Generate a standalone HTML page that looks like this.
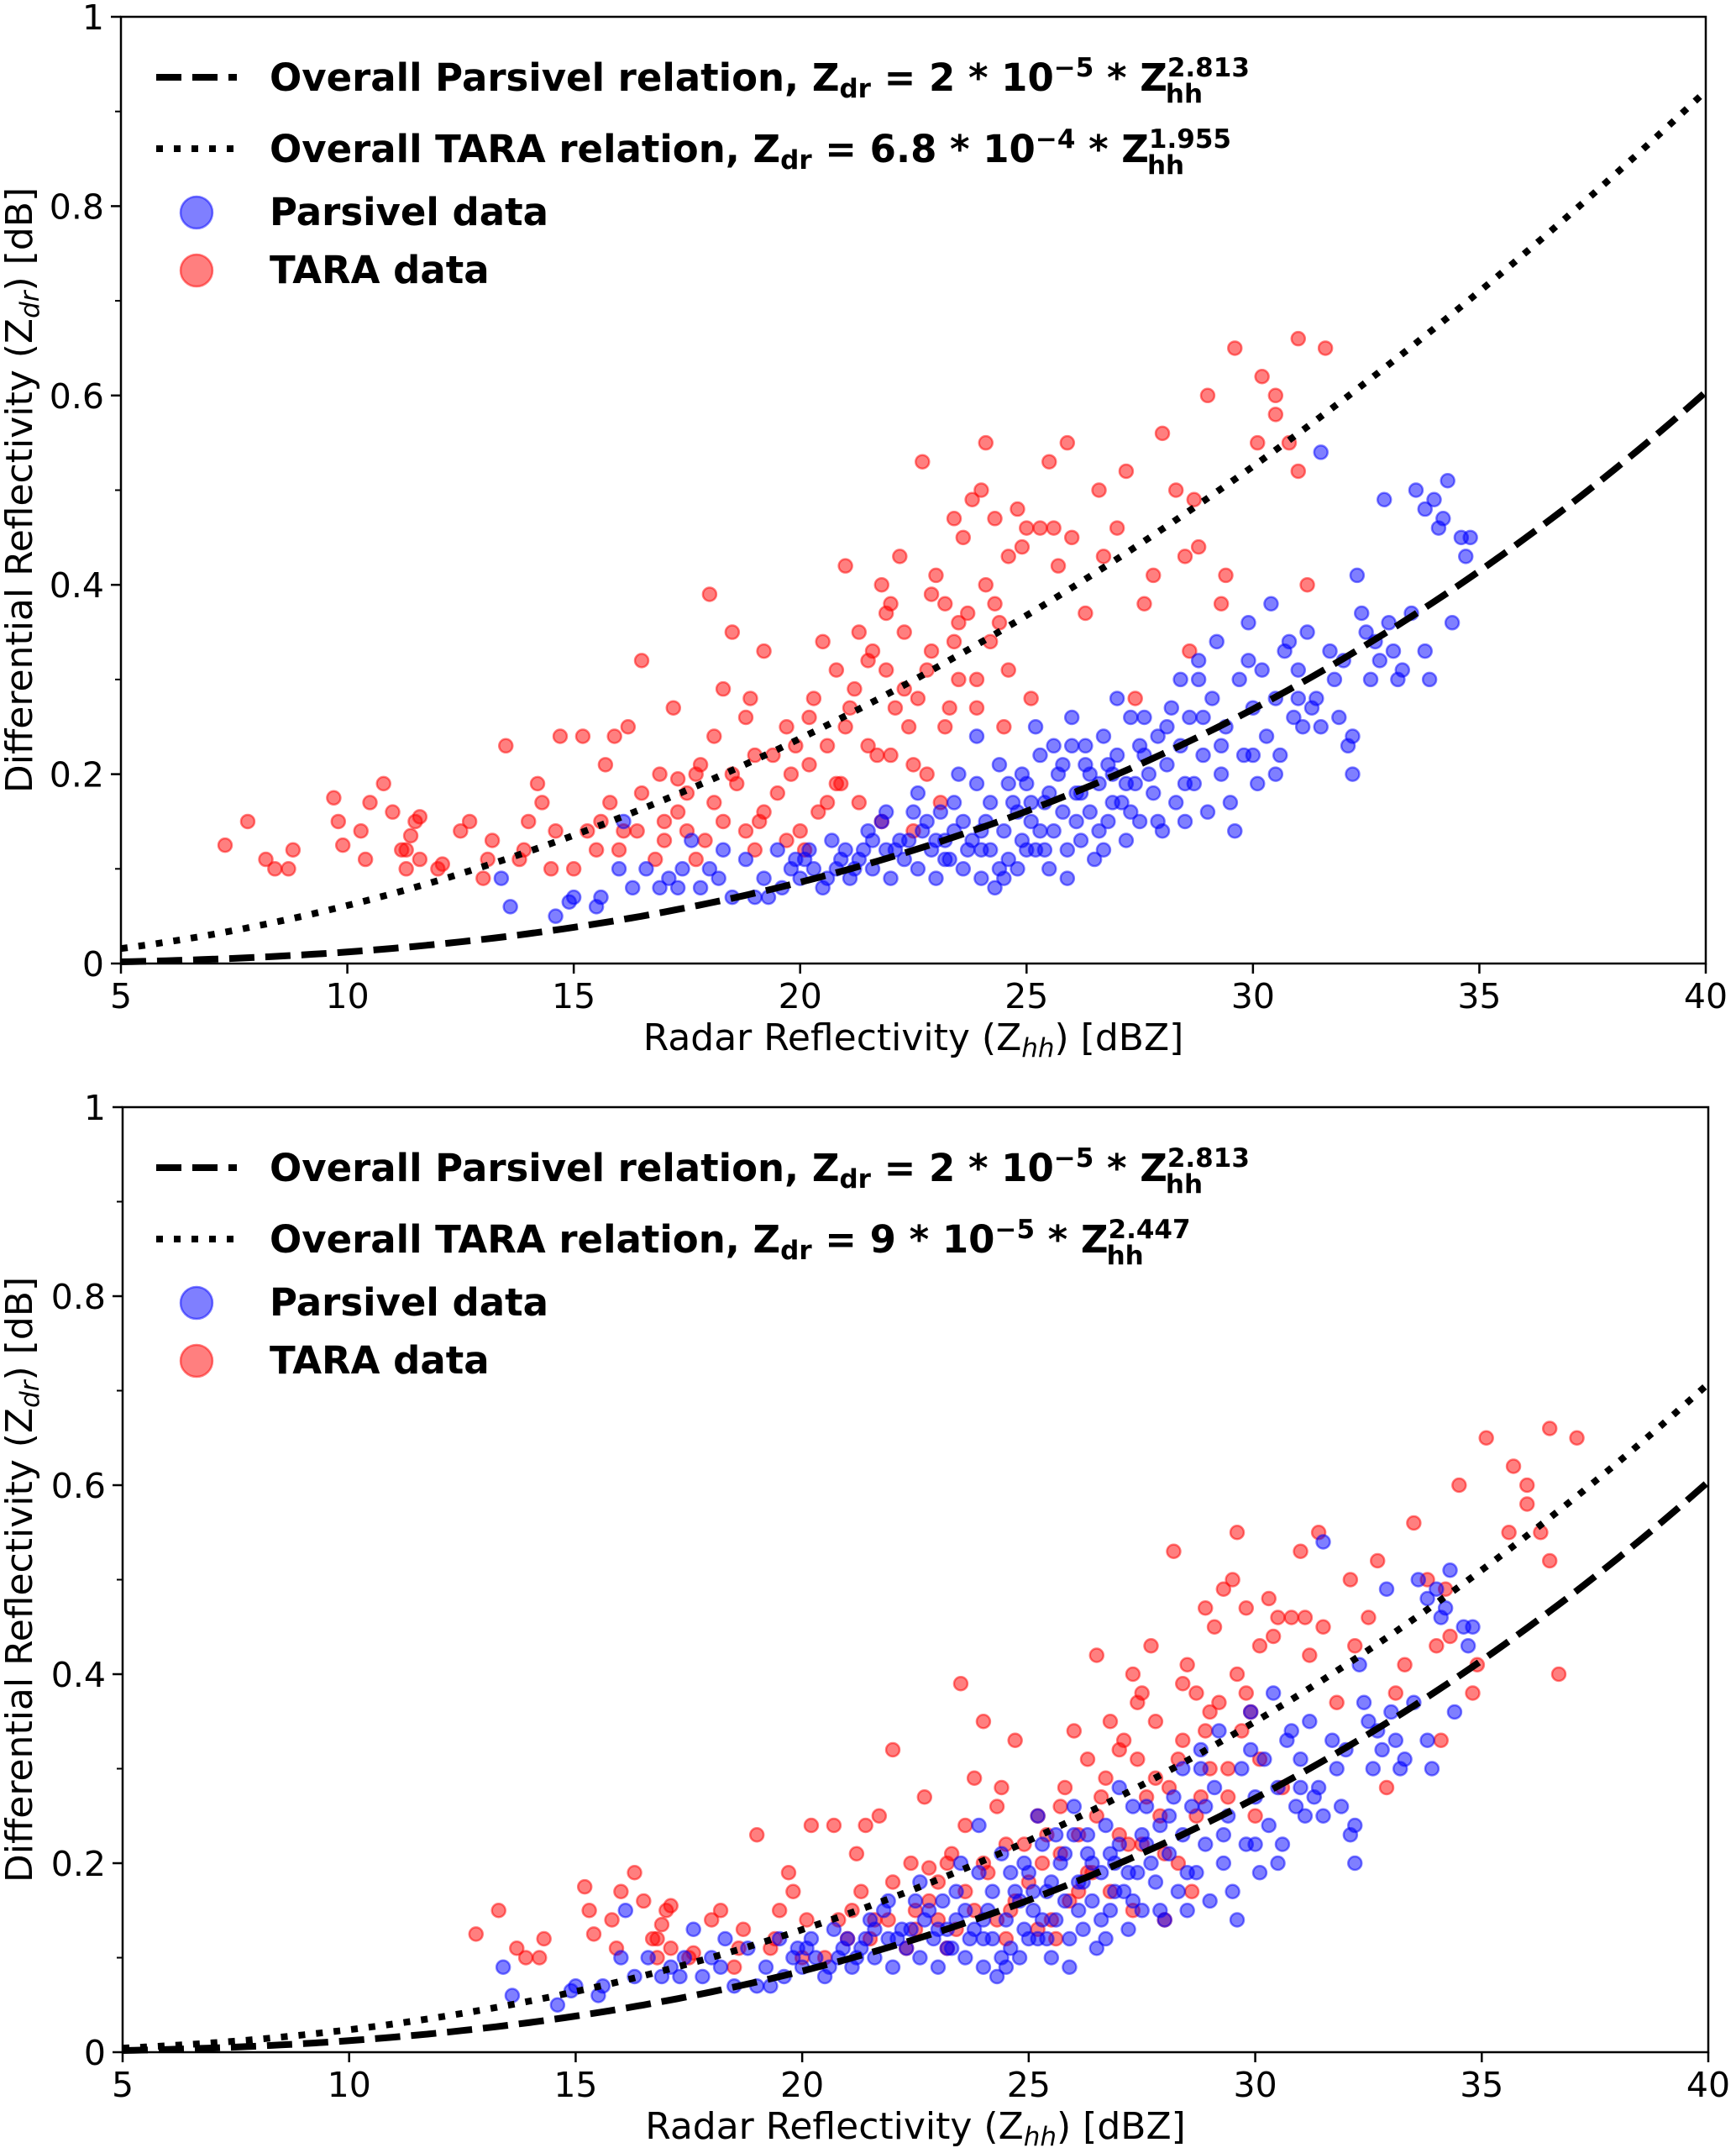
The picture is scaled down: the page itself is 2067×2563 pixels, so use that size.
<!DOCTYPE html>
<html><head><meta charset="utf-8"><style>
html,body{margin:0;padding:0;background:#fff;}
svg{display:block;font-family:"DejaVu Sans","Liberation Sans",sans-serif;}
</style></head><body>
<svg id="fig" xmlns="http://www.w3.org/2000/svg" width="2067" height="2563" viewBox="0 0 2067 2563"></svg>
<script>
// ---- data ----
const xTicks = [5,10,15,20,25,30,35,40];
const yTicks = [0,0.2,0.4,0.6,0.8,1];
const yTickLabels = ["0","0.2","0.4","0.6","0.8","1"];
const yMinor = [0.1,0.3,0.5,0.7,0.9];
const parsivelCoef = [1.88e-5, 1.88e-5];
const parsivelExp = [2.813, 2.813];
const taraCoef = [6.8e-4, 8.5e-5];
const taraExp = [1.955, 2.447];
const taraShift = [0, 5.5];
const taraX = [7.3,7.8,8.2,8.4,8.8,8.7,9.7,9.8,9.9,10.3,10.5,10.4,10.8,11.0,11.2,11.3,11.3,11.5,11.4,11.6,11.6,12,12.1,12.7,13.2,13.1,13.5,13.9,13.8,14.2,14.3,14.6,14.7,15.2,15.3,15.5,15.7,15.8,15.9,16.0,16.2,16.5,16.4,17.0,17.2,17.3,17.5,17.3,17.7,17.9,18.1,18.0,18.3,18.5,18.3,18.6,18.9,18.8,19.2,19.4,19.2,19.7,19.7,20.0,20.2,20.5,20.6,20.8,21.0,21.0,21.3,21.5,21.7,21.8,22.0,22.1,22.2,22.3,22.5,22.7,22.8,23.0,23.2,23.3,23.5,23.6,23.7,23.8,24.0,24.1,24.3,24.6,24.8,25.0,25.3,25.5,25.6,25.9,26.3,26.6,27.0,27.4,27.6,28.0,28.3,28.5,28.7,29.0,29.4,29.6,30.1,30.2,30.5,30.8,31.0,31.0,31.6,31.2,29.3,28.6,27.8,25.7,26.7,24.3,23.9,21.5,22.8,20.2,21.8,22.5,20.6,21.2,19.1,16.8,15.0,14.5,12.5,19.5,20.9,22.3,23.2,23.9,17.7,16.5,15.6,18.5,20.1,21.9,22.9,24.2,25.1,23.1,19.8,18.1,17.0,16.1,14.0,13.0,20.4,22.0,24.6,21.3,23.5,24.5,16.9,17.8,19.0,20.3,21.1,21.6,22.6,23.4,24.1,24.9,23.4,24.4,22.9,21.9,20.8,19.0,17.5,18.8,22.4,26.0,27.2,28.8,30.5,19.9];
const taraY = [0.125,0.15,0.11,0.10,0.12,0.10,0.175,0.15,0.125,0.14,0.17,0.11,0.19,0.16,0.12,0.12,0.10,0.15,0.135,0.11,0.155,0.10,0.105,0.15,0.13,0.11,0.23,0.12,0.11,0.19,0.17,0.14,0.24,0.24,0.14,0.12,0.21,0.17,0.24,0.12,0.25,0.32,0.14,0.13,0.27,0.195,0.18,0.16,0.20,0.13,0.24,0.39,0.29,0.35,0.15,0.19,0.28,0.14,0.16,0.22,0.33,0.25,0.13,0.14,0.26,0.34,0.17,0.31,0.42,0.25,0.17,0.32,0.22,0.40,0.38,0.27,0.43,0.35,0.21,0.53,0.31,0.41,0.38,0.27,0.30,0.45,0.37,0.49,0.50,0.55,0.47,0.43,0.48,0.46,0.46,0.53,0.46,0.55,0.37,0.50,0.46,0.28,0.38,0.56,0.50,0.43,0.49,0.60,0.41,0.65,0.55,0.62,0.60,0.55,0.66,0.52,0.65,0.40,0.38,0.33,0.41,0.42,0.43,0.38,0.30,0.23,0.20,0.21,0.15,0.14,0.23,0.29,0.15,0.11,0.10,0.10,0.14,0.18,0.19,0.29,0.25,0.27,0.11,0.18,0.15,0.20,0.12,0.31,0.33,0.34,0.28,0.17,0.20,0.17,0.15,0.14,0.15,0.09,0.16,0.22,0.31,0.35,0.36,0.25,0.20,0.21,0.22,0.28,0.27,0.33,0.28,0.34,0.40,0.44,0.47,0.36,0.39,0.37,0.19,0.12,0.14,0.26,0.25,0.45,0.52,0.44,0.58,0.23];
const parsX = [13.4,13.6,14.6,14.9,15.0,15.6,15.5,16.1,16.3,16.6,17.1,17.3,17.6,17.8,18.0,18.2,18.5,18.8,19.0,19.2,19.5,19.6,19.8,20.0,20.2,20.3,20.5,20.7,20.8,21.0,21.1,21.3,21.5,21.6,21.8,21.9,22.0,22.2,22.3,22.5,22.6,22.7,22.9,23.0,23.1,23.3,23.4,23.5,23.6,23.8,23.9,24.0,24.1,24.2,24.3,24.4,24.5,24.6,24.7,24.8,24.9,25.0,25.1,25.2,25.3,25.4,25.5,25.6,25.7,25.8,25.9,26.0,26.1,26.2,26.3,26.4,26.5,26.6,26.7,26.8,26.9,27.0,27.1,27.2,27.3,27.4,27.5,27.6,27.8,27.9,28.0,28.1,28.2,28.3,28.4,28.5,28.6,28.7,28.8,28.9,29.0,29.1,29.2,29.3,29.4,29.5,29.7,29.8,29.9,30.0,30.1,30.2,30.3,30.4,30.5,30.6,30.8,30.9,31.0,31.1,31.2,31.4,31.5,31.5,31.7,31.8,32.0,32.2,32.2,32.3,32.4,32.5,32.6,32.8,32.9,33.0,33.1,33.3,33.5,33.6,33.8,33.9,34.0,34.1,34.2,34.3,34.4,34.6,34.7,34.8,22.4,23.2,24.0,24.8,25.5,26.2,26.9,25.0,24.4,23.7,26.6,27.7,25.8,24.6,23.4,21.6,20.9,27.0,26.0,25.2,28.4,16.0,16.9,17.4,18.3,19.3,19.9,20.6,21.2,21.9,22.1,22.8,23.0,23.6,24.2,24.5,24.9,25.3,25.6,25.9,26.1,26.4,26.7,27.2,27.5,27.9,28.1,28.5,28.9,29.3,29.6,30.0,30.5,31.0,31.3,31.9,32.1,33.2,33.8,22.6,23.9,25.1,26.3,27.6,28.8,29.9,21.4,20.1,24.0,25.4,26.8,30.7,32.7,23.2,27.3];
const parsY = [0.09,0.06,0.05,0.065,0.07,0.07,0.06,0.15,0.08,0.10,0.09,0.08,0.13,0.08,0.10,0.09,0.07,0.11,0.07,0.09,0.12,0.08,0.10,0.09,0.12,0.10,0.08,0.13,0.10,0.12,0.09,0.11,0.14,0.10,0.15,0.12,0.09,0.13,0.11,0.16,0.10,0.14,0.12,0.09,0.16,0.11,0.14,0.20,0.10,0.13,0.24,0.09,0.15,0.12,0.08,0.21,0.14,0.11,0.17,0.10,0.13,0.19,0.15,0.12,0.22,0.17,0.10,0.14,0.20,0.16,0.12,0.23,0.18,0.13,0.21,0.16,0.11,0.19,0.24,0.15,0.20,0.22,0.17,0.13,0.26,0.19,0.15,0.22,0.18,0.24,0.14,0.21,0.27,0.17,0.23,0.15,0.26,0.19,0.32,0.22,0.16,0.28,0.34,0.20,0.25,0.17,0.30,0.22,0.36,0.27,0.19,0.31,0.24,0.38,0.28,0.22,0.34,0.26,0.31,0.25,0.35,0.28,0.54,0.25,0.33,0.30,0.32,0.24,0.20,0.41,0.37,0.35,0.30,0.32,0.49,0.36,0.33,0.31,0.37,0.50,0.48,0.30,0.49,0.46,0.47,0.51,0.36,0.45,0.43,0.45,0.13,0.13,0.12,0.16,0.18,0.18,0.17,0.12,0.10,0.12,0.14,0.20,0.21,0.19,0.17,0.13,0.11,0.28,0.26,0.25,0.30,0.10,0.08,0.10,0.12,0.07,0.11,0.09,0.10,0.16,0.12,0.15,0.13,0.15,0.17,0.09,0.20,0.14,0.23,0.09,0.15,0.20,0.12,0.19,0.23,0.15,0.25,0.19,0.26,0.23,0.14,0.22,0.20,0.28,0.27,0.26,0.23,0.30,0.33,0.18,0.19,0.17,0.23,0.26,0.30,0.32,0.12,0.11,0.14,0.12,0.21,0.33,0.34,0.11,0.16];
const panelExps = [["2.813","1.955"],["2.813","2.447"]];
const panelCoefTxt = [["2 * 10","6.8 * 10"],["2 * 10","9 * 10"]];
const panelPow = [["−5","−4"],["−5","−5"]];

const NS="http://www.w3.org/2000/svg";
const svg=document.getElementById('fig');
function mk(tag,attrs,parent){const e=document.createElementNS(NS,tag);for(const k in attrs)e.setAttribute(k,attrs[k]);(parent||svg).appendChild(e);return e;}

const panels=[{x0:144,x1:2031,y0:1147,y1:20,ly:0},{x0:146,x1:2034,y0:2443,y1:1318,ly:1298}];

panels.forEach((P,pi)=>{
  const g=mk('g',{});
  
  
  const sx=v=>P.x0+(v-5)/35*(P.x1-P.x0);
  const sy=v=>P.y0-(v)*(P.y0-P.y1);
  const gr=mk('g',{},g);
  
  
  for(let i=0;i<taraX.length;i++){
    const c=mk('circle',{cx:sx(taraX[i]+taraShift[pi]),cy:sy(taraY[i]),r:8,fill:'rgba(255,0,0,0.5)',stroke:'rgba(255,0,0,0.5)','stroke-width':2.5},gr);
    
    
  }
  const gb=mk('g',{},g);
  
  
  for(let i=0;i<parsX.length;i++){
    const c=mk('circle',{cx:sx(parsX[i]),cy:sy(parsY[i]),r:8,fill:'rgba(0,0,255,0.5)',stroke:'rgba(0,0,255,0.5)','stroke-width':2.5},gb);
    
    
  }
  function curve(a,b,dash,name){
    let d='';
    for(let z=5;z<=40.001;z+=0.25){const v=a*Math.pow(z,b);d+=(d?'L':'M')+sx(z).toFixed(1)+','+sy(v).toFixed(1);}
    const p=mk('path',{d:d,fill:'none',stroke:'#000','stroke-width':8,'stroke-dasharray':dash},g);
    
    
  }
  curve(parsivelCoef[pi],parsivelExp[pi],'30 13','parsivel-fit-line');
  curve(taraCoef[pi],taraExp[pi],'8 13','tara-fit-line');
  const fr=mk('rect',{x:P.x0,y:P.y1,width:P.x1-P.x0,height:P.y0-P.y1,fill:'none',stroke:'#000','stroke-width':2.5},g);
  
  
  xTicks.forEach(t=>{
    mk('line',{x1:sx(t),x2:sx(t),y1:P.y0,y2:P.y0+12,stroke:'#000','stroke-width':2.5},g);
    const tx=mk('text',{x:sx(t),y:P.y0+53,'font-size':41,'text-anchor':'middle',fill:'#000'},g);
    tx.textContent=t;
    
    
  });
  yTicks.forEach((t,i)=>{
    mk('line',{x1:P.x0-12,x2:P.x0,y1:sy(t),y2:sy(t),stroke:'#000','stroke-width':2.5},g);
    const tx=mk('text',{x:P.x0-20,y:sy(t)+15,'font-size':41,'text-anchor':'end',fill:'#000'},g);
    tx.textContent=yTickLabels[i];
    
    
  });
  yMinor.forEach(t=>mk('line',{x1:P.x0-7,x2:P.x0,y1:sy(t),y2:sy(t),stroke:'#000','stroke-width':2}, g));
  const xl=mk('text',{x:(P.x0+P.x1)/2,y:P.y0+103,'font-size':44,'text-anchor':'middle',fill:'#000'},g);
  xl.innerHTML='Radar Reflectivity (Z<tspan font-style="italic" font-size="31" dy="8">hh</tspan><tspan dy="-8">) [dBZ]</tspan>';
  
  
  const yl=mk('text',{x:0,y:0,'font-size':44,'text-anchor':'middle',fill:'#000',transform:`translate(38,${(P.y0+P.y1)/2}) rotate(-90)`},g);
  yl.innerHTML='Differential Reflectivity (Z<tspan font-style="italic" font-size="31" dy="8">dr</tspan><tspan dy="-8">) [dB]</tspan>';
  
  
  const L=mk('g',{'font-weight':'bold',fill:'#000'},g);
  
  
  const ly=P.ly;
  mk('line',{x1:186,x2:282,y1:ly+92,y2:ly+92,stroke:'#000','stroke-width':8,'stroke-dasharray':'30 13'},L);
  mk('line',{x1:186,x2:282,y1:ly+177,y2:ly+177,stroke:'#000','stroke-width':8,'stroke-dasharray':'8 13'},L);
  mk('circle',{cx:234,cy:ly+253,r:19,fill:'rgba(0,0,255,0.5)',stroke:'rgba(0,0,255,0.5)','stroke-width':2.5},L);
  mk('circle',{cx:234,cy:ly+322,r:19,fill:'rgba(255,0,0,0.5)',stroke:'rgba(255,0,0,0.5)','stroke-width':2.5},L);
  const names=['Overall Parsivel relation, ','Overall TARA relation, '];
  [0,1].forEach(k=>{
    const t=mk('text',{x:321,y:ly+(k?193:108),'font-size':45},L);
    t.innerHTML=names[k]+'Z<tspan font-size="31" dy="8">dr</tspan><tspan dy="-8"> = '+panelCoefTxt[pi][k]+'</tspan><tspan font-size="31" dy="-17">'+panelPow[pi][k]+'</tspan><tspan dy="17"> * Z</tspan><tspan font-size="31" dy="-17">'+panelExps[pi][k]+'</tspan><tspan font-size="31" dx="-'+(panelExps[pi][k].length*20)+'" dy="31">hh</tspan>';
    
    
  });
  const t3=mk('text',{x:321,y:ly+268,'font-size':45},L);t3.textContent='Parsivel data';
  
  
  const t4=mk('text',{x:321,y:ly+337,'font-size':45},L);t4.textContent='TARA data';
  
  
});
</script>
</body></html>
